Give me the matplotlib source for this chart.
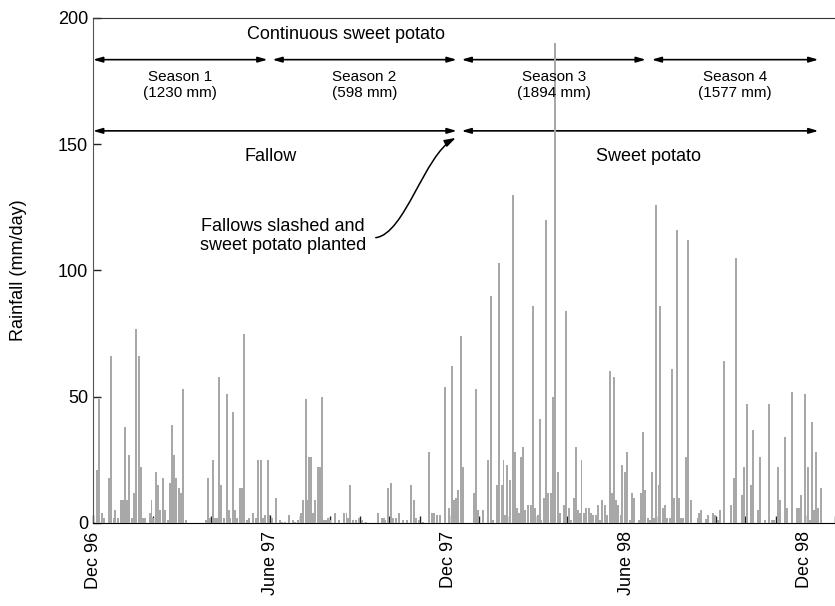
# Daily rainfall, Dec 1996 - Dec 1998, with fallow / sweet potato seasons
import numpy as np
import pandas as pd
import matplotlib
matplotlib.use('Agg')
import matplotlib.pyplot as plt
from matplotlib.patches import FancyArrowPatch
from matplotlib.path import Path

plt.rcParams['font.family'] = ['Liberation Sans', 'DejaVu Sans']

# days counted from 1 Dec 1996, rainfall in mm/day
days = [4, 6, 9, 11, 16, 18, 21, 23, 26, 29, 31, 33, 35, 37, 40, 42, 44, 47, 49, 51,
        53, 58, 60, 62, 65, 67, 69, 72, 74, 77, 79, 81, 83, 85, 88, 90, 92, 95,
        116, 118, 120, 123, 125, 127, 129, 131, 134, 137, 139, 141, 144, 146, 148,
        151, 153, 155, 158, 160, 164, 167, 169, 172, 174, 176, 179, 181, 184, 188,
        192, 194, 197, 201, 205, 207, 210, 213, 215, 218, 220, 222, 224, 226, 228,
        231, 233, 235, 237, 239, 241, 243, 248, 252, 257, 260, 262, 264, 267, 270,
        273, 276, 280, 292, 296, 298, 300, 303, 306, 308, 311, 314, 318, 322, 326,
        329, 331, 334, 338, 345, 348, 350, 353, 356, 361, 365, 368, 370, 372, 374,
        377, 379,
        391, 393, 395, 400, 405, 408, 410, 414, 416, 419, 421, 423, 425, 428, 431,
        433, 435, 437, 439, 441, 443, 446, 449, 451, 453, 456, 458, 460, 463, 465,
        467, 470, 472, 474, 477, 479, 483, 485, 488, 490, 493, 495, 497, 499, 501,
        504, 506, 509, 511, 513, 516, 518, 520, 522, 525, 527, 530, 532, 534, 536,
        538, 541, 543, 546, 548, 551, 553, 555, 560, 562, 564, 566, 569, 571, 573,
        575, 577, 580, 582, 585, 587, 589, 592, 594, 596, 599, 601, 603, 605, 608,
        610, 613, 620, 622, 624, 629, 631, 636, 638, 641, 643, 647, 654, 657, 659,
        666, 668, 671, 675, 677, 682, 684, 689, 693, 696, 698, 703, 705, 710, 712,
        717, 722, 724, 726, 730, 733, 735, 737, 739, 742, 744, 747]
rain = [21, 49, 4, 2, 18, 66, 2, 5, 2, 9, 9, 38, 9, 27, 2, 12, 77, 66, 22, 2,
        2, 4, 9, 2, 20, 15, 5, 18, 5, 1, 16, 39, 27, 18, 14, 12, 53, 1,
        1, 18, 2, 25, 2, 2, 58, 15, 2, 51, 5, 2, 44, 5, 2,
        14, 14, 75, 1, 2, 4, 2, 25, 25, 2, 3, 25, 3, 2, 10,
        1, 0.5, 0.5, 3, 1, 0.5, 1, 4, 9, 49, 9, 26, 26, 4, 9,
        22, 22, 50, 1, 1, 2, 1, 4, 1, 4, 4, 2, 15, 1, 1,
        2, 1, 0.5, 4, 2, 2, 1, 14, 16, 2, 2, 4, 1, 1, 15,
        9, 2, 1, 0.5, 28, 4, 4, 3, 3, 54, 6, 62, 9, 10, 13,
        74, 22,
        12, 53, 5, 5, 25, 90, 1, 15, 103, 15, 25, 3, 23, 17, 130,
        28, 6, 4, 26, 30, 5, 7, 7, 86, 6, 3, 41, 1, 10, 120,
        12, 12, 50, 190, 20, 4, 7, 84, 6, 1, 10, 30, 5, 4, 25,
        4, 6, 6, 4, 3, 3, 7, 1, 9, 7, 3, 60, 12, 58, 9,
        7, 3, 23, 20, 28, 1, 12, 10, 1, 12, 36, 13, 2, 1, 20,
        2, 126, 15, 86, 6, 7, 2, 2, 61, 10, 116, 10, 2, 2, 26,
        112, 9, 2, 4, 5, 1.5, 3, 4, 3, 1, 5, 64, 7, 18, 105,
        11, 22, 47, 15, 37, 5, 26, 1, 47, 1, 1, 22, 9, 34, 6,
        52, 6, 6, 11, 51, 22, 1, 40, 5, 28, 6, 14]

tick_days = [0, 182, 365, 547, 730]
tick_labels = ['Dec 96', 'June 97', 'Dec 97', 'June 98', 'Dec 98']

season_names = ['Season 1\n(1230 mm)', 'Season 2\n(598 mm)',
                'Season 3\n(1894 mm)', 'Season 4\n(1577 mm)']
season_start = [0, 184, 378, 573]
season_end = [179, 373, 567, 744]

# month starts for the small ticks
months = pd.date_range('1996-12-01', '1999-01-01', freq='MS')
month_days = (months - pd.Timestamp('1996-12-01')).days

fig = plt.figure(figsize=(8.35, 6.06), dpi=100)
ax = fig.add_axes([0.1114, 0.137, 0.8886, 0.8333])

ax.bar(days, rain, width=2.0, color='#a8a8a8', linewidth=0, zorder=3)

ax.set_xlim(0, 751)
ax.set_ylim(0, 200)
ax.set_yticks([0, 50, 100, 150, 200])
ax.set_xticks(tick_days)
ax.set_xticklabels(tick_labels, rotation=90)
ax.set_xticks(month_days, minor=True)
ax.tick_params(axis='both', which='major', direction='in', length=6, width=1,
               labelsize=13, color='#222222')
ax.tick_params(axis='x', which='minor', direction='in', length=5, width=1,
               color='#222222')
ax.tick_params(axis='x', which='major', pad=6)
ax.set_ylabel('Rainfall (mm/day)', fontsize=13, labelpad=22)

ax.spines['right'].set_visible(False)
ax.spines['left'].set_color('#555555')
ax.spines['top'].set_color('#333333')
ax.spines['bottom'].set_color('black')

# arrows for seasons and treatments
arrow_kw = dict(arrowstyle='<|-|>,head_length=0.55,head_width=0.16',
                color='black', lw=1.2, shrinkA=0, shrinkB=0)
for s0, s1, name in zip(season_start, season_end, season_names):
    ax.annotate('', xy=(s1, 183.5), xytext=(s0, 183.5), arrowprops=arrow_kw, zorder=2)
    ax.text((s0 + s1) / 2, 173.5, name, ha='center', va='center', fontsize=11,
            linespacing=1.25)
ax.annotate('', xy=(373, 155.3), xytext=(0, 155.3), arrowprops=arrow_kw, zorder=2)
ax.annotate('', xy=(744, 155.3), xytext=(378, 155.3), arrowprops=arrow_kw, zorder=2)

ax.text(259, 193.3, 'Continuous sweet potato', ha='center', va='center', fontsize=13)
ax.text(182, 145, 'Fallow', ha='center', va='center', fontsize=13)
ax.text(570, 145, 'Sweet potato', ha='center', va='center', fontsize=13)
ax.text(195, 113.5, 'Fallows slashed and\nsweet potato planted', ha='center',
        va='center', fontsize=13, linespacing=1.15)

# curved pointer to the planting date
verts = [(290, 113.0), (320, 114.5), (340, 146.0), (372, 152.5)]
codes = [Path.MOVETO, Path.CURVE4, Path.CURVE4, Path.CURVE4]
pointer = FancyArrowPatch(path=Path(verts, codes),
                          arrowstyle='-|>,head_length=0.55,head_width=0.18',
                          color='black', lw=1.1, mutation_scale=12,
                          shrinkA=0, shrinkB=0)
ax.add_patch(pointer)

fig.savefig('out.png', dpi=100)
